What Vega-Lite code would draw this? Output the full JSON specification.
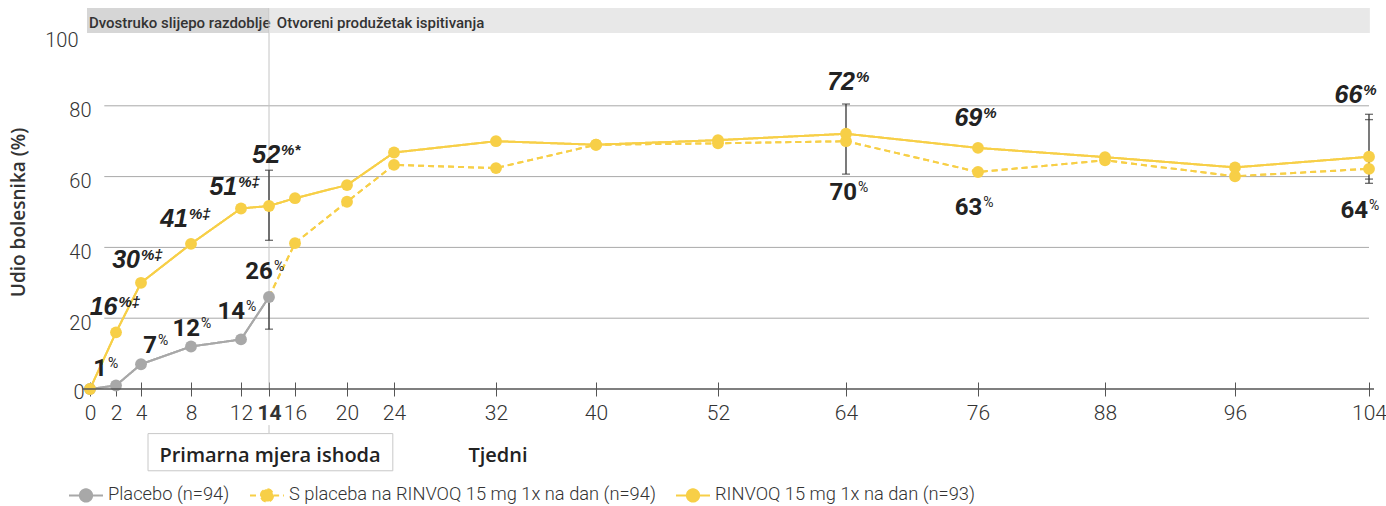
{
  "$schema": "https://vega.github.io/schema/vega-lite/v6.json",
  "autosize": "none",
  "width": 1279,
  "height": 354,
  "padding": {"left": 90, "top": 35, "right": 17, "bottom": 117},
  "background": "white",
  "config": {"view": {"stroke": null}, "font": "Roboto"},
  "datasets": {
    "series": [
      {"series": "Placebo (n=94)", "week": 0, "pct": 0},
      {"series": "Placebo (n=94)", "week": 2, "pct": 1},
      {"series": "Placebo (n=94)", "week": 4, "pct": 7},
      {"series": "Placebo (n=94)", "week": 8, "pct": 12},
      {"series": "Placebo (n=94)", "week": 12, "pct": 14},
      {"series": "Placebo (n=94)", "week": 14, "pct": 26},
      {"series": "S placeba na RINVOQ 15 mg 1x na dan (n=94)", "week": 14, "pct": 26},
      {"series": "S placeba na RINVOQ 15 mg 1x na dan (n=94)", "week": 16, "pct": 41.2},
      {"series": "S placeba na RINVOQ 15 mg 1x na dan (n=94)", "week": 20, "pct": 52.9},
      {"series": "S placeba na RINVOQ 15 mg 1x na dan (n=94)", "week": 24, "pct": 63.3},
      {"series": "S placeba na RINVOQ 15 mg 1x na dan (n=94)", "week": 32, "pct": 62.4},
      {"series": "S placeba na RINVOQ 15 mg 1x na dan (n=94)", "week": 40, "pct": 69},
      {"series": "S placeba na RINVOQ 15 mg 1x na dan (n=94)", "week": 52, "pct": 69.4},
      {"series": "S placeba na RINVOQ 15 mg 1x na dan (n=94)", "week": 64, "pct": 70},
      {"series": "S placeba na RINVOQ 15 mg 1x na dan (n=94)", "week": 76, "pct": 61.3},
      {"series": "S placeba na RINVOQ 15 mg 1x na dan (n=94)", "week": 88, "pct": 64.6},
      {"series": "S placeba na RINVOQ 15 mg 1x na dan (n=94)", "week": 96, "pct": 60.1},
      {"series": "S placeba na RINVOQ 15 mg 1x na dan (n=94)", "week": 104, "pct": 62.2},
      {"series": "RINVOQ 15 mg 1x na dan (n=93)", "week": 0, "pct": 0},
      {"series": "RINVOQ 15 mg 1x na dan (n=93)", "week": 2, "pct": 16},
      {"series": "RINVOQ 15 mg 1x na dan (n=93)", "week": 4, "pct": 30},
      {"series": "RINVOQ 15 mg 1x na dan (n=93)", "week": 8, "pct": 41},
      {"series": "RINVOQ 15 mg 1x na dan (n=93)", "week": 12, "pct": 51},
      {"series": "RINVOQ 15 mg 1x na dan (n=93)", "week": 14, "pct": 51.7},
      {"series": "RINVOQ 15 mg 1x na dan (n=93)", "week": 16, "pct": 53.9},
      {"series": "RINVOQ 15 mg 1x na dan (n=93)", "week": 20, "pct": 57.6},
      {"series": "RINVOQ 15 mg 1x na dan (n=93)", "week": 24, "pct": 66.8},
      {"series": "RINVOQ 15 mg 1x na dan (n=93)", "week": 32, "pct": 70},
      {"series": "RINVOQ 15 mg 1x na dan (n=93)", "week": 40, "pct": 69},
      {"series": "RINVOQ 15 mg 1x na dan (n=93)", "week": 52, "pct": 70.3},
      {"series": "RINVOQ 15 mg 1x na dan (n=93)", "week": 64, "pct": 72.1},
      {"series": "RINVOQ 15 mg 1x na dan (n=93)", "week": 76, "pct": 68.1},
      {"series": "RINVOQ 15 mg 1x na dan (n=93)", "week": 88, "pct": 65.5},
      {"series": "RINVOQ 15 mg 1x na dan (n=93)", "week": 96, "pct": 62.6},
      {"series": "RINVOQ 15 mg 1x na dan (n=93)", "week": 104, "pct": 65.6}
    ],
    "labels": [
      {"kind": "R", "week": 2.12, "pct": 20.8, "num": "16", "suf": "%‡"},
      {"kind": "R", "week": 3.92, "pct": 34.1, "num": "30", "suf": "%‡"},
      {"kind": "R", "week": 7.76, "pct": 45.7, "num": "41", "suf": "%‡"},
      {"kind": "R", "week": 11.7, "pct": 54.7, "num": "51", "suf": "%‡"},
      {"kind": "R", "week": 14.85, "pct": 63.9, "num": "52", "suf": "%*"},
      {"kind": "R", "week": 64.82, "pct": 84.4, "num": "72", "suf": "%"},
      {"kind": "R", "week": 76.4, "pct": 74.3, "num": "69", "suf": "%"},
      {"kind": "R", "week": 103.6, "pct": 80.8, "num": "66", "suf": "%"},
      {"kind": "P", "week": 1.31, "pct": 3.8, "num": "1", "suf": "%"},
      {"kind": "P", "week": 5.28, "pct": 10.3, "num": "7", "suf": "%"},
      {"kind": "P", "week": 8.72, "pct": 15.1, "num": "12", "suf": "%"},
      {"kind": "P", "week": 12.29, "pct": 19.9, "num": "14", "suf": "%"},
      {"kind": "P", "week": 14.3, "pct": 31.2, "num": "26", "suf": "%"},
      {"kind": "P", "week": 65.0, "pct": 53.3, "num": "70", "suf": "%"},
      {"kind": "P", "week": 76.4, "pct": 49.1, "num": "63", "suf": "%"},
      {"kind": "P", "week": 103.94, "pct": 48.2, "num": "64", "suf": "%"}
    ],
    "errs": [
      {"week": 14, "lo": 42, "hi": 61.8},
      {"week": 14, "lo": 16.9, "hi": 26},
      {"week": 64, "lo": 72, "hi": 80.5},
      {"week": 64, "lo": 60.7, "hi": 69},
      {"week": 104, "lo": 58.1, "hi": 77.6}
    ],
    "caps": [
      {"week": 14, "pct": 61.8}, {"week": 14, "pct": 42}, {"week": 14, "pct": 16.9},
      {"week": 64, "pct": 80.5}, {"week": 64, "pct": 69}, {"week": 64, "pct": 60.7},
      {"week": 104, "pct": 77.6}, {"week": 104, "pct": 76.1}, {"week": 104, "pct": 59.3}, {"week": 104, "pct": 58.1}
    ],
    "grid": [{"pct": 20}, {"pct": 40}, {"pct": 60}, {"pct": 80}],
    "head": [
      {"t": "Dvostruko slijepo razdoblje", "week": -0.08},
      {"t": "Otvoreni produžetak ispitivanja", "week": 14.6}
    ]
  },
  "layer": [
    {
      "data": {"name": "series"},
      "mark": {"type": "line", "strokeWidth": 2},
      "encoding": {
        "x": {"field": "week", "type": "quantitative",
          "scale": {"domain": [0,2,4,8,12,14,16,20,24,32,40,52,64,76,88,96,104], "range": [0,26,51,101,151,179,205,257,304,406,506,628,756,888,1015,1145,1279], "nice": false, "zero": false},
          "axis": {"values": [0,2,4,8,12,14,16,20,24,32,40,52,64,76,88,96,104], "title": null, "domain": false, "grid": false, "ticks": true, "tickSize": 14, "tickColor": "#555555", "tickWidth": 1, "offset": -7, "labelFontSize": 21, "labelColor": "#333333", "labelFont": "Roboto", "labelFontWeight": {"condition": {"test": "datum.value == 14", "value": "bold"}, "value": 300}, "labelPadding": 6, "labelFlush": false, "labelOverlap": false}},
        "y": {"field": "pct", "type": "quantitative",
          "scale": {"domain": [0, 100], "nice": false, "zero": false},
          "axis": {"values": [0,20,40,60,80,100], "title": "Udio bolesnika (%)", "domain": false, "ticks": false, "grid": false, "labelFontSize": 20, "labelColor": "#333333", "labelFont": "Roboto", "labelFontWeight": 300, "labelOffset": {"condition": {"test": "datum.value == 0", "value": 3}, "value": 5}, "labelPadding": {"condition": [{"test": "datum.value == 100", "value": 12}, {"test": "datum.value == 0", "value": 6}], "value": -1}, "titleFont": "Open Sans", "titleFontSize": 19, "titleFontWeight": 600, "titleColor": "#333333", "titleX": -72, "titleY": 177, "titleAngle": -90, "titleAlign": "center", "titleBaseline": "middle"}},
        "stroke": {"field": "series", "type": "nominal", "title": null,
          "scale": {"domain": ["Placebo (n=94)", "S placeba na RINVOQ 15 mg 1x na dan (n=94)", "RINVOQ 15 mg 1x na dan (n=93)"], "range": ["#a8a8a8", "#f7cf47", "#f7cf47"]},
          "legend": {"orient": "none", "legendX": -22, "legendY": 442, "direction": "horizontal", "columns": 3, "symbolType": "M-1,0H-0.36M0.36,0H1M-0.36,0A0.36,0.36,0,1,1,0.36,0A0.36,0.36,0,1,1,-0.36,0Z", "symbolSize": 1156, "symbolStrokeWidth": 2, "labelFont": "Roboto", "labelFontSize": 18.3, "labelFontWeight": 300, "labelColor": "#333333", "labelOffset": 4, "columnPadding": 16, "labelLimit": 500}},
        "strokeDash": {"field": "series", "type": "nominal", "title": null,
          "scale": {"domain": ["Placebo (n=94)", "S placeba na RINVOQ 15 mg 1x na dan (n=94)", "RINVOQ 15 mg 1x na dan (n=93)"], "range": [[1, 0], [6, 4], [1, 0]]},
          "legend": {"orient": "none", "legendX": -22, "legendY": 442, "direction": "horizontal", "columns": 3, "symbolType": "M-1,0H-0.36M0.36,0H1M-0.36,0A0.36,0.36,0,1,1,0.36,0A0.36,0.36,0,1,1,-0.36,0Z", "symbolSize": 1156, "symbolStrokeWidth": 2, "labelFont": "Roboto", "labelFontSize": 18.3, "labelFontWeight": 300, "labelColor": "#333333", "labelOffset": 4, "columnPadding": 16, "labelLimit": 500}}
      }
    },
    {
      "data": {"values": [{}]},
      "mark": {"type": "rect", "color": "#d6d6d6"},
      "encoding": {
        "x": {"datum": -0.23, "type": "quantitative"},
        "x2": {"datum": 14},
        "y": {"datum": 100.6, "type": "quantitative"},
        "y2": {"datum": 107.6}
      }
    },
    {
      "data": {"values": [{}]},
      "mark": {"type": "rect", "color": "#e8e8e8"},
      "encoding": {
        "x": {"datum": 14.08, "type": "quantitative"},
        "x2": {"datum": 104.05},
        "y": {"datum": 100.6, "type": "quantitative"},
        "y2": {"datum": 107.6}
      }
    },
    {
      "data": {"name": "head"},
      "mark": {"type": "text", "align": "left", "baseline": "alphabetic", "fontSize": 15, "fontWeight": 500, "color": "#333333"},
      "encoding": {
        "x": {"field": "week", "type": "quantitative"},
        "y": {"datum": 101.9, "type": "quantitative"},
        "text": {"field": "t"}
      }
    },
    {
      "data": {"name": "grid"},
      "mark": {"type": "rule", "color": "#a9a9a9", "strokeWidth": 1},
      "encoding": {
        "x": {"datum": 1.1, "type": "quantitative"},
        "x2": {"datum": 104},
        "y": {"field": "pct", "type": "quantitative"}
      }
    },
    {
      "data": {"values": [{"a": 107.6, "b": 0}, {"a": -10.2, "b": -12.6}]},
      "mark": {"type": "rule", "color": "#c4c4c4", "strokeWidth": 1},
      "encoding": {
        "x": {"datum": 14, "type": "quantitative"},
        "y": {"field": "a", "type": "quantitative"},
        "y2": {"field": "b"}
      }
    },
    {
      "data": {"name": "errs"},
      "mark": {"type": "rule", "color": "#333333", "strokeWidth": 1.3},
      "encoding": {
        "x": {"field": "week", "type": "quantitative"},
        "y": {"field": "lo", "type": "quantitative"},
        "y2": {"field": "hi"}
      }
    },
    {
      "data": {"name": "caps"},
      "mark": {"type": "tick", "orient": "horizontal", "color": "#333333", "size": 8, "thickness": 1.3},
      "encoding": {
        "x": {"field": "week", "type": "quantitative"},
        "y": {"field": "pct", "type": "quantitative"}
      }
    },
    {
      "data": {"name": "series"},
      "mark": {"type": "line", "strokeWidth": 2},
      "encoding": {
        "x": {"field": "week", "type": "quantitative"},
        "y": {"field": "pct", "type": "quantitative"},
        "stroke": {"field": "series", "type": "nominal"},
        "strokeDash": {"field": "series", "type": "nominal"}
      }
    },
    {
      "data": {"name": "series"},
      "transform": [{"filter": "!(datum.series == 'S placeba na RINVOQ 15 mg 1x na dan (n=94)' && datum.week == 14)"}],
      "mark": {"type": "point", "filled": true, "size": 140, "opacity": 1},
      "encoding": {
        "x": {"field": "week", "type": "quantitative"},
        "y": {"field": "pct", "type": "quantitative"},
        "fill": {"field": "series", "type": "nominal", "title": null,
          "scale": {"domain": ["Placebo (n=94)", "S placeba na RINVOQ 15 mg 1x na dan (n=94)", "RINVOQ 15 mg 1x na dan (n=93)"], "range": ["#a8a8a8", "#f7cf47", "#f7cf47"]},
          "legend": {"orient": "none", "legendX": -22, "legendY": 442, "direction": "horizontal", "columns": 3, "symbolType": "M-1,0H-0.36M0.36,0H1M-0.36,0A0.36,0.36,0,1,1,0.36,0A0.36,0.36,0,1,1,-0.36,0Z", "symbolSize": 1156, "symbolStrokeWidth": 2, "labelFont": "Roboto", "labelFontSize": 18.3, "labelFontWeight": 300, "labelColor": "#333333", "labelOffset": 4, "columnPadding": 16, "labelLimit": 500}}
      }
    },
    {
      "data": {"name": "labels"},
      "transform": [{"filter": "datum.kind == 'R'"}],
      "mark": {"type": "text", "align": "right", "baseline": "alphabetic", "font": "Liberation Sans", "fontStyle": "italic", "fontWeight": "bold", "fontSize": 25, "color": "#222222"},
      "encoding": {
        "x": {"field": "week", "type": "quantitative"},
        "y": {"field": "pct", "type": "quantitative"},
        "text": {"field": "num"}
      }
    },
    {
      "data": {"name": "labels"},
      "transform": [{"filter": "datum.kind == 'R'"}],
      "mark": {"type": "text", "align": "left", "baseline": "alphabetic", "dx": 1, "dy": -8, "font": "Liberation Sans", "fontStyle": "italic", "fontWeight": "bold", "fontSize": 15, "color": "#222222"},
      "encoding": {
        "x": {"field": "week", "type": "quantitative"},
        "y": {"field": "pct", "type": "quantitative"},
        "text": {"field": "suf"}
      }
    },
    {
      "data": {"name": "labels"},
      "transform": [{"filter": "datum.kind == 'P'"}],
      "mark": {"type": "text", "align": "right", "baseline": "alphabetic", "font": "Roboto", "fontWeight": "bold", "fontSize": 24, "color": "#222222"},
      "encoding": {
        "x": {"field": "week", "type": "quantitative"},
        "y": {"field": "pct", "type": "quantitative"},
        "text": {"field": "num"}
      }
    },
    {
      "data": {"name": "labels"},
      "transform": [{"filter": "datum.kind == 'P'"}],
      "mark": {"type": "text", "align": "left", "baseline": "alphabetic", "dx": 1, "dy": -8, "font": "Roboto", "fontWeight": 400, "fontSize": 14, "color": "#222222"},
      "encoding": {
        "x": {"field": "week", "type": "quantitative"},
        "y": {"field": "pct", "type": "quantitative"},
        "text": {"field": "suf"}
      }
    },
    {
      "data": {"values": [{}]},
      "mark": {"type": "rule", "color": "#555555", "strokeWidth": 1.5},
      "encoding": {
        "x": {"datum": -0.6, "type": "quantitative"},
        "x2": {"datum": 104.3},
        "y": {"datum": 0, "type": "quantitative"}
      }
    },
    {
      "data": {"values": [{}]},
      "mark": {"type": "rect", "fill": "white", "stroke": "#c8c8c8", "strokeWidth": 1},
      "encoding": {
        "x": {"datum": 4.56, "type": "quantitative"},
        "x2": {"datum": 23.9},
        "y": {"datum": -12.6, "type": "quantitative"},
        "y2": {"datum": -23.1}
      }
    },
    {
      "data": {"values": [{"t": "Primarna mjera ishoda", "week": 14.08}, {"t": "Tjedni", "week": 32.16}]},
      "mark": {"type": "text", "align": "center", "baseline": "alphabetic", "font": "Open Sans", "fontWeight": 600, "fontSize": 20, "color": "#222222"},
      "encoding": {
        "x": {"field": "week", "type": "quantitative"},
        "y": {"datum": -20.6, "type": "quantitative"},
        "text": {"field": "t"}
      }
    }
  ]
}
